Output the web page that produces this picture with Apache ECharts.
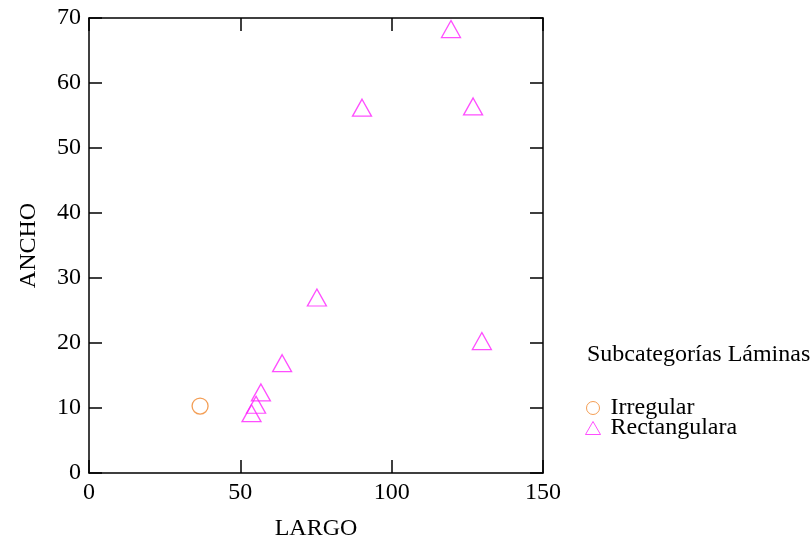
<!DOCTYPE html>
<html>
<head>
<meta charset="utf-8">
<script src="https://cdn.jsdelivr.net/npm/echarts@6/dist/echarts.min.js"></script>
<style>
  html, body { margin: 0; padding: 0; background: #fff; }
  #chart { width: 812px; height: 541px; }
</style>
</head>
<body>
<div id="chart"></div>
<script>
// datos
const irregularLargo = [36.7];
const irregularAncho = [10.3];
const rectLargo = [119.6, 90.2, 126.9, 75.3, 129.8, 63.8, 56.8, 55.2, 53.7];
const rectAncho = [68.3, 56.2, 56.4, 27.0, 20.3, 16.9, 12.4, 10.5, 9.2];

const xTicks = { min: 0, max: 150, interval: 50 };
const yTicks = { min: 0, max: 70, interval: 10 };

const font = "Liberation Serif";
const fs = 24;
const chart = echarts.init(document.getElementById("chart"));

const pairs = (xs, ys) => xs.map((x, i) => [x, ys[i]]);

const tickStyle = {
  show: true,
  inside: true,
  length: 13,
  lineStyle: { color: "#000", width: 1.5 },
};
const lineStyle = { show: true, onZero: false, lineStyle: { color: "#000", width: 1.5 } };

chart.setOption({
  animation: false,
  textStyle: { fontFamily: font },
  grid: { left: 89, top: 18, width: 454, height: 455, outerBoundsMode: "none", containLabel: false },
  title: {
    text: "Subcategorías Láminas",
    left: 582,
    top: 338,
    textStyle: { fontFamily: font, fontWeight: "normal", fontSize: fs, color: "#000" },
  },
  legend: {
    orient: "vertical",
    left: 580,
    top: 391,
    itemWidth: 15,
    itemHeight: 13,
    itemGap: -4,
    textStyle: { fontFamily: font, fontSize: fs, color: "#000", padding: [0, 0, 0, 5] },
    data: [
      { name: "Irregular", icon: "circle", itemStyle: { borderWidth: 1 } },
      { name: "Rectangulara", icon: "triangle", itemStyle: { borderWidth: 1 } },
    ],
  },
  xAxis: [
    {
      type: "value",
      ...xTicks,
      name: "LARGO",
      nameLocation: "middle",
      nameGap: 44,
      nameTextStyle: { fontFamily: font, fontSize: fs, color: "#000" },
      axisLine: lineStyle,
      axisTick: tickStyle,
      splitLine: { show: false },
      axisLabel: { fontFamily: font, fontSize: fs, color: "#000", margin: 8 },
    },
    {
      type: "value",
      ...xTicks,
      position: "top",
      axisLine: lineStyle,
      axisTick: tickStyle,
      splitLine: { show: false },
      axisLabel: { show: false },
    },
  ],
  yAxis: [
    {
      type: "value",
      ...yTicks,
      name: "ANCHO",
      nameLocation: "middle",
      nameGap: 48,
      nameTextStyle: { fontFamily: font, fontSize: fs, color: "#000" },
      axisLine: lineStyle,
      axisTick: tickStyle,
      splitLine: { show: false },
      axisLabel: { fontFamily: font, fontSize: fs, color: "#000", margin: 8 },
    },
    {
      type: "value",
      ...yTicks,
      position: "right",
      axisLine: lineStyle,
      axisTick: tickStyle,
      splitLine: { show: false },
      axisLabel: { show: false },
    },
  ],
  series: [
    {
      name: "Irregular",
      type: "scatter",
      symbol: "circle",
      symbolSize: 16,
      itemStyle: { color: "rgba(0,0,0,0)", borderColor: "#f0862a", borderWidth: 1.3 },
      data: pairs(irregularLargo, irregularAncho),
    },
    {
      name: "Rectangulara",
      type: "scatter",
      symbol: "triangle",
      symbolSize: [19, 17],
      itemStyle: { color: "rgba(0,0,0,0)", borderColor: "#ff22ff", borderWidth: 1.3 },
      data: pairs(rectLargo, rectAncho),
    },
  ],
});
</script>
</body>
</html>
